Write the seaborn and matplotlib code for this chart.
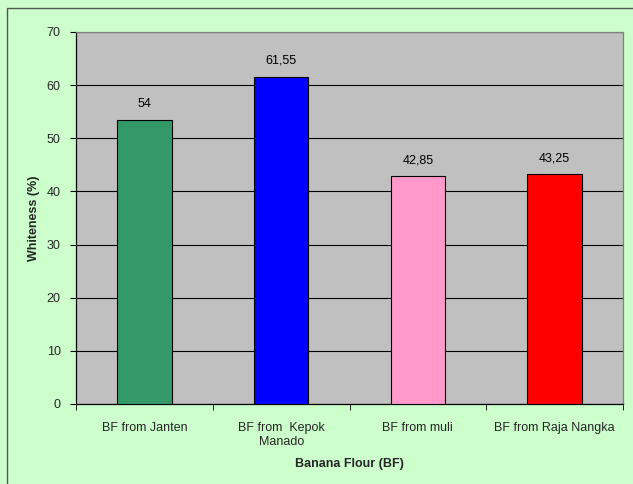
import numpy as np
import pandas as pd
import matplotlib
matplotlib.use("Agg")
import matplotlib.pyplot as plt
import seaborn as sns
from matplotlib.patches import Rectangle

# values
categories = ["BF from Janten", "BF from  Kepok\nManado", "BF from muli", "BF from Raja Nangka"]
whiteness = [53.45, 61.55, 42.85, 43.25]
value_labels = ["54", "61,55", "42,85", "43,25"]
bar_colors = ["#339966", "#0000ff", "#ff99cc", "#ff0000"]

df = pd.DataFrame({"flour": categories, "whiteness": whiteness})

sns.set_style("white")
plt.rcParams["font.family"] = ["Liberation Sans", "DejaVu Sans"]

fig = plt.figure(figsize=(6.33, 4.84), dpi=100)
fig.patch.set_facecolor("#ccffcc")
fig.patches.append(Rectangle((7 / 633, -0.01), 1.0, 1 - 8 / 484 + 0.01,
                             transform=fig.transFigure, fill=False,
                             edgecolor="#555555", linewidth=1.0))

ax = fig.add_axes([76 / 633, 80 / 484, 547 / 633, 372 / 484])
ax.set_facecolor("#c0c0c0")

sns.barplot(data=df, x="flour", y="whiteness", hue="flour", palette=bar_colors,
            saturation=1, width=0.4, edgecolor="black", linewidth=0.8,
            legend=False, zorder=3, ax=ax)

for i, (v, lab) in enumerate(zip(whiteness, value_labels)):
    ax.text(i, v + 1.9, lab, ha="center", va="bottom", fontsize=9, color="black")

ax.set_ylim(0, 70)
ax.set_xlim(-0.5, 3.5)
ax.set_yticks(np.arange(0, 71, 10))
ax.yaxis.grid(True, color="black", linewidth=0.8, zorder=0)
ax.set_axisbelow(True)

# category ticks between groups
ax.set_xticks(np.arange(4))
ax.set_xticklabels(categories, fontsize=9)
ax.set_xticks(np.arange(-0.5, 4.0, 1.0), minor=True)
ax.tick_params(axis="x", which="major", length=0, pad=13)
ax.tick_params(axis="x", which="minor", length=4, color="black", direction="out")
ax.tick_params(axis="y", length=4, color="black", direction="out", labelsize=9, pad=7)
ax.xaxis.set_tick_params(which="minor", bottom=True)
ax.yaxis.set_tick_params(left=True)

for side in ["left", "bottom"]:
    ax.spines[side].set_color("black")
    ax.spines[side].set_linewidth(0.9)
for side in ["top", "right"]:
    ax.spines[side].set_color("#808080")
    ax.spines[side].set_linewidth(0.9)

ax.set_xlabel("Banana Flour (BF)", fontsize=9, fontweight="bold", labelpad=7)
ax.set_ylabel("Whiteness (%)", fontsize=9, fontweight="bold", labelpad=5)

fig.savefig("out.png", dpi=100, facecolor=fig.get_facecolor())
